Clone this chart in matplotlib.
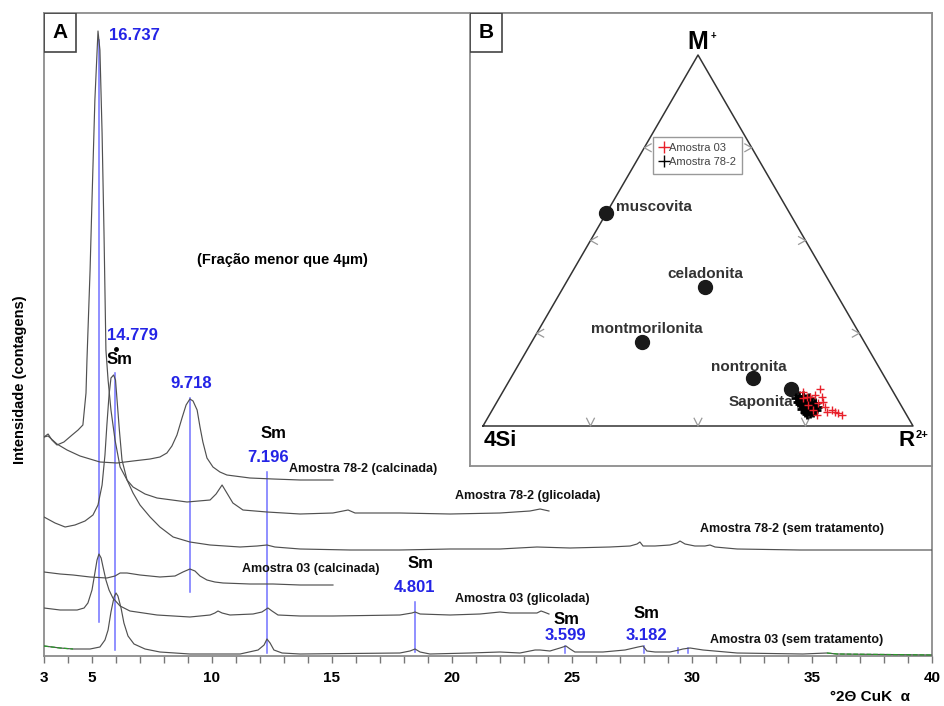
import numpy as np
import matplotlib.pyplot as plt
from matplotlib.patches import Rectangle
from matplotlib.lines import Line2D

plt.rcParams['font.family'] = ['Liberation Sans', 'DejaVu Sans']

# ---- XRD traces (2theta, intensity in arbitrary counts) ----
g78_tt = [3.0, 3.17, 3.33, 3.54, 3.83, 4.17, 4.42, 4.62, 4.75, 4.79, 4.92, 5.0, 5.12, 5.25,
          5.33, 5.42, 5.5, 5.58, 5.67, 5.79, 5.96, 6.17, 6.46, 6.71, 7.21, 7.71, 8.96, 9.92,
          10.17, 10.42, 10.62, 10.87, 11.29, 12.29, 13.67, 15.04, 15.67, 15.96, 17.83, 19.92,
          22.0, 23.25, 23.67, 24.04]
g78_i = [219, 222, 216, 211, 214, 221, 226, 231, 263, 296, 386, 456, 556, 625,
         606, 523, 423, 306, 276, 246, 216, 189, 176, 169, 162, 158, 154, 156,
         162, 171, 163, 153, 146, 144, 142, 143, 146, 143, 143, 142,
         143, 145, 147, 145]

c78_tt = [3.0, 3.17, 3.54, 3.96, 4.5, 5.33, 6.04, 6.71, 7.42, 7.83, 8.12, 8.33, 8.54, 8.75,
          8.92, 9.08, 9.21, 9.38, 9.5, 9.62, 9.79, 10.04, 10.33, 10.62, 11.58, 12.54, 13.67, 15.04]
c78_i = [219, 220, 212, 206, 200, 194, 193, 195, 197, 199, 203, 210, 221, 238,
         251, 257, 255, 246, 229, 214, 198, 189, 184, 181, 178, 177, 176, 176]

u78_tt = [3.0, 3.46, 3.88, 4.29, 4.71, 5.04, 5.25, 5.42, 5.54, 5.62, 5.71, 5.79, 5.9, 5.98,
          6.06, 6.14, 6.25, 6.46, 6.71, 7.0, 7.42, 7.83, 8.38, 9.08, 9.92, 11.17, 11.88, 12.29,
          12.62, 13.67, 15.75, 17.83, 19.92, 22.0, 23.54, 24.92, 26.58, 27.42, 27.71, 27.83,
          27.96, 28.46, 29.08, 29.38, 29.5, 29.71, 30.12, 30.54, 30.75, 30.96, 31.88, 34.5, 40.0]
u78_i = [139, 133, 129, 131, 135, 141, 151, 171, 201, 231, 261, 278, 281, 276,
         251, 226, 196, 176, 163, 151, 139, 129, 119, 114, 111, 109, 110, 111,
         109, 107, 106, 106, 107, 107, 109, 108, 109, 110, 112, 114,
         110, 110, 111, 113, 115, 112, 110, 110, 111, 109, 107, 106, 106]

c03_tt = [3.0, 3.67, 4.21, 4.92, 5.62, 5.96, 6.17, 6.46, 7.0, 7.83, 8.46, 8.79, 9.08, 9.29,
          9.5, 9.79, 10.12, 10.46, 11.58, 12.54, 13.67, 15.04]
c03_i = [84, 82, 81, 79, 78, 80, 83, 83, 81, 79, 80, 84, 87, 85,
         80, 76, 74, 73, 72, 72, 71, 71]

g03_tt = [3.0, 3.67, 4.38, 4.67, 4.83, 5.0, 5.12, 5.21, 5.29, 5.38, 5.46, 5.58, 5.71, 5.87,
          6.17, 6.58, 7.71, 9.08, 9.92, 10.12, 10.25, 10.42, 10.75, 11.71, 12.08, 12.33, 12.5,
          12.75, 13.67, 15.04, 17.83, 18.33, 18.46, 18.67, 19.92, 21.17, 22.0, 22.42, 23.54,
          23.71, 23.83, 24.04]
g03_i = [48, 46, 46, 48, 53, 66, 83, 96, 102, 98, 89, 76, 66, 58,
         50, 45, 41, 39, 41, 43, 45, 43, 41, 42, 44, 48, 45,
         41, 40, 40, 41, 43, 44, 42, 41, 42, 44, 43, 43,
         45, 44, 42]

u03_tt = [3.0, 3.67, 4.21, 4.92, 5.33, 5.54, 5.67, 5.79, 5.92, 6.0, 6.08, 6.21, 6.33, 6.5,
          6.75, 7.21, 7.83, 9.08, 11.17, 11.92, 12.17, 12.29, 12.42, 12.58, 12.92, 13.67,
          17.83, 18.25, 18.46, 18.67, 19.08, 20.75, 22.0, 22.83, 23.46, 23.67, 24.08, 24.5,
          24.75, 24.92, 25.12, 26.29, 27.21, 27.75, 27.96, 28.12, 28.46, 29.08, 29.46, 29.62,
          29.92, 30.46, 31.88, 34.62, 35.62, 36.04, 40.0]
u03_i = [10, 8, 7, 7, 9, 16, 26, 44, 59, 63, 60, 48, 33, 20,
         12, 7, 4, 2, 2, 6, 11, 17, 13, 6, 3, 2,
         3, 5, 7, 4, 2, 3, 4, 3, 6, 6, 5, 8,
         10, 7, 4, 4, 6, 9, 10, 5, 4, 4, 6, 7,
         8, 6, 3, 2, 3, 2, 1]

# d-spacings (Angstrom) marked with blue lines, and vertical extent of each line
d_values = [16.737, 14.779, 9.718, 7.196, 4.801, 3.599, 3.182]
d_low = [34, 6, 64, 3, 4, 3, 3]
d_high = [616, 283, 258, 184, 54, 10, 10]
extra_tt = [29.4, 29.85]

# ---- ternary data: fractions of M+ and R2+ (4Si = remainder) ----
min_names = ['muscovita', 'celadonita', 'montmorilonita', 'nontronita', 'Saponita']
min_m = [0.574, 0.375, 0.226, 0.129, 0.100]
min_r = [0.000, 0.329, 0.257, 0.563, 0.666]

a03_m = [0.092, 0.100, 0.078, 0.084, 0.078, 0.065, 0.062, 0.051, 0.057, 0.043, 0.030,
         0.043, 0.038, 0.035, 0.030, 0.038, 0.076, 0.078]
a03_r = [0.698, 0.734, 0.721, 0.730, 0.749, 0.758, 0.748, 0.770, 0.728, 0.746, 0.762,
         0.790, 0.800, 0.808, 0.820, 0.781, 0.707, 0.714]

a78_m = [0.076, 0.081, 0.070, 0.062, 0.073, 0.065, 0.059, 0.067, 0.054, 0.049, 0.043,
         0.051, 0.046, 0.054, 0.059, 0.046, 0.038, 0.032, 0.035, 0.038, 0.043, 0.065,
         0.081, 0.076, 0.062, 0.051, 0.059, 0.067, 0.054, 0.040]
a78_r = [0.690, 0.694, 0.705, 0.713, 0.712, 0.721, 0.728, 0.729, 0.720, 0.727, 0.734,
         0.735, 0.742, 0.743, 0.708, 0.719, 0.730, 0.737, 0.743, 0.749, 0.753, 0.700,
         0.704, 0.720, 0.741, 0.751, 0.722, 0.713, 0.729, 0.743]

LAMBDA = 1.5406


def bragg(d):
    return 2 * np.degrees(np.arcsin(LAMBDA / (2 * np.asarray(d))))


def tern(m, r):
    m = np.asarray(m)
    r = np.asarray(r)
    return r + m / 2, m * np.sqrt(3) / 2


fig = plt.figure(figsize=(9.45, 7.06), dpi=100)
ax = fig.add_axes([44 / 945, 1 - 656 / 706, 888 / 945, 643 / 706])

trace_col = '#505050'
for tt, ii in [(g78_tt, g78_i), (c78_tt, c78_i), (u78_tt, u78_i),
               (c03_tt, c03_i), (g03_tt, g03_i), (u03_tt, u03_i)]:
    ax.plot(tt, ii, color=trace_col, lw=0.85, zorder=3)
# green segments of the bottom scan
ax.plot(u03_tt[:3], u03_i[:3], color='#2a9a2a', lw=0.9, ls='--', zorder=4)
ax.plot(u03_tt[-3:], u03_i[-3:], color='#2a9a2a', lw=0.9, ls='--', zorder=4)

blue = '#7272ff'
btxt = '#2424e6'
for tt, lo, hi in zip(bragg(d_values), d_low, d_high):
    ax.plot([tt, tt], [lo, hi], color=blue, lw=1.1, zorder=2)
for tt in extra_tt:
    ax.plot([tt, tt], [3, 8], color=blue, lw=1.1, zorder=2)

ax.set_xlim(3, 40)
ax.set_ylim(0, 643)
ax.set_xticks([3, 5, 10, 15, 20, 25, 30, 35, 40])
ax.set_xticks(np.arange(3, 41, 1), minor=True)
ax.tick_params(axis='x', which='both', direction='out', length=5, width=1, color='#777777', pad=6)
ax.set_xticklabels([str(v) for v in [3, 5, 10, 15, 20, 25, 30, 35, 40]],
                   fontsize=11, fontweight='bold')
ax.set_yticks([])
for s in ax.spines.values():
    s.set_color('#8c8c8c')
    s.set_linewidth(1.3)

bold = dict(fontweight='bold')
ax.text(5.71, 621, '16.737', color=btxt, fontsize=12, va='center', **bold)
ax.text(5.62, 321, '14.779', color=btxt, fontsize=12, va='center', **bold)
ax.text(5.62, 296, 'Sm', color='black', fontsize=12, va='center', **bold)
ax.plot([6.0], [307], 'o', color='black', ms=2.5)
ax.text(9.125, 273, '9.718', color=btxt, fontsize=12, ha='center', va='center', **bold)
ax.text(12.58, 223, 'Sm', fontsize=12, ha='center', va='center', **bold)
ax.text(12.33, 199, '7.196', color=btxt, fontsize=12, ha='center', va='center', **bold)
ax.text(18.67, 93, 'Sm', fontsize=12, ha='center', va='center', **bold)
ax.text(18.42, 68, '4.801', color=btxt, fontsize=12, ha='center', va='center', **bold)
ax.text(24.75, 37, 'Sm', fontsize=12, ha='center', va='center', **bold)
ax.text(24.71, 20, '3.599', color=btxt, fontsize=12, ha='center', va='center', **bold)
ax.text(28.12, 42, 'Sm', fontsize=12, ha='center', va='center', **bold)
ax.text(28.12, 20, '3.182', color=btxt, fontsize=12, ha='center', va='center', **bold)

lab = dict(fontsize=9, va='center', fontweight='bold', color='#111111')
ax.text(13.21, 187, 'Amostra 78-2 (calcinada)', **lab)
ax.text(20.125, 160, 'Amostra 78-2 (glicolada)', **lab)
ax.text(30.33, 127, 'Amostra 78-2 (sem tratamento)', **lab)
ax.text(11.25, 87, 'Amostra 03 (calcinada)', **lab)
ax.text(20.125, 57, 'Amostra 03 (glicolada)', **lab)
ax.text(30.75, 16, 'Amostra 03 (sem tratamento)', **lab)
ax.text(12.92, 396, '(Fração menor que 4µm)', fontsize=10.5, ha='center', va='center', **bold)

ax.add_patch(Rectangle((0, 1 - 39 / 643), 32 / 888, 39 / 643, transform=ax.transAxes,
                       fill=False, ec='#444444', lw=1.2, zorder=5))
ax.text(16 / 888, 1 - 19.5 / 643, 'A', transform=ax.transAxes, fontsize=15,
        ha='center', va='center', **bold)

fig.text(20 / 945, 1 - 380 / 706, 'Intensidade (contagens)', rotation=90, fontsize=10.5,
         ha='center', va='center', **bold)
fig.text(870 / 945, 1 - 697 / 706, '°2Θ CuK  α', fontsize=11, ha='center', va='center', **bold)

# ---- panel B: ternary diagram ----
bx = fig.add_axes([470 / 945, 1 - 466 / 706, 462 / 945, 453 / 706], zorder=10)
bx.set_facecolor('white')
bx.set_xlim(-13 / 430, 1 + 19 / 430)
bx.set_ylim(-40 / 371 * 0.866, 413 / 371 * 0.866)
bx.set_xticks([])
bx.set_yticks([])
for s in bx.spines.values():
    s.set_color('#8c8c8c')
    s.set_linewidth(1.3)

h = np.sqrt(3) / 2
bx.plot([0, 1, 0.5, 0], [0, 0, h, 0], color='#333333', lw=1.1)
gc = '#999999'
for f in [0.25, 0.5, 0.75]:
    bx.plot([f - 0.009, f, f + 0.009], [0.018, 0, 0.018], color=gc, lw=0.9)
    lx, ly = f / 2, f * h
    bx.plot([lx + 0.016, lx, lx + 0.016], [ly + 0.009, ly, ly - 0.009], color=gc, lw=0.9)
    rx, ry = 1 - f / 2, f * h
    bx.plot([rx - 0.016, rx, rx - 0.016], [ry + 0.009, ry, ry - 0.009], color=gc, lw=0.9)

mx, my = tern(min_m, min_r)
bx.plot(mx, my, 'o', color='#1a1a1a', ms=10, ls='none', zorder=4)
x78, y78 = tern(a78_m, a78_r)
bx.scatter(x78, y78, marker='+', color='black', s=60, linewidths=2.0, zorder=5)
x03, y03 = tern(a03_m, a03_r)
bx.scatter(x03, y03, marker='+', color='#e8202a', s=35, linewidths=1.0, zorder=6)

mlab = dict(fontsize=11, fontweight='bold', color='#333333', va='center')
bx.text(mx[0] + 0.022, my[0] + 0.014, min_names[0], ha='left', **mlab)
bx.text(mx[1], my[1] + 0.031, min_names[1], ha='center', **mlab)
bx.text(mx[2] + 0.01, my[2] + 0.031, min_names[2], ha='center', **mlab)
bx.text(mx[3] - 0.01, my[3] + 0.026, min_names[3], ha='center', **mlab)
bx.text(mx[4] + 0.005, my[4] - 0.03, min_names[4], ha='right', zorder=4, **mlab)

bx.text(0.5, h + 0.03, 'M', fontsize=18, ha='center', va='center', **bold)
bx.text(0.535, h + 0.045, '+', fontsize=7, ha='center', va='center', **bold)
bx.text(0.04, -0.035, '4Si', fontsize=16, ha='center', va='center', **bold)
bx.text(0.985, -0.035, 'R', fontsize=16, ha='center', va='center', **bold)
bx.text(1.02, -0.02, '2+', fontsize=8, ha='center', va='center', **bold)

handles = [Line2D([], [], marker='+', color='#e8202a', ls='none', ms=9, mew=1.0),
           Line2D([], [], marker='+', color='black', ls='none', ms=9, mew=1.0)]
leg = bx.legend(handles, ['Amostra 03', 'Amostra 78-2'], loc='upper left',
                bbox_to_anchor=(0.396, 0.727), fontsize=8, handlelength=0.7,
                handletextpad=0.1, borderpad=0.6, labelspacing=0.35, fancybox=False,
                framealpha=1, edgecolor='#999999', borderaxespad=0)
for t in leg.get_texts():
    t.set_color('#444444')

bx.add_patch(Rectangle((0, 1 - 39 / 453), 32 / 462, 39 / 453, transform=bx.transAxes,
                       fill=False, ec='#444444', lw=1.2, zorder=8))
bx.text(16 / 462, 1 - 19.5 / 453, 'B', transform=bx.transAxes, fontsize=15,
        ha='center', va='center', **bold)

fig.savefig('out.png', dpi=100)
